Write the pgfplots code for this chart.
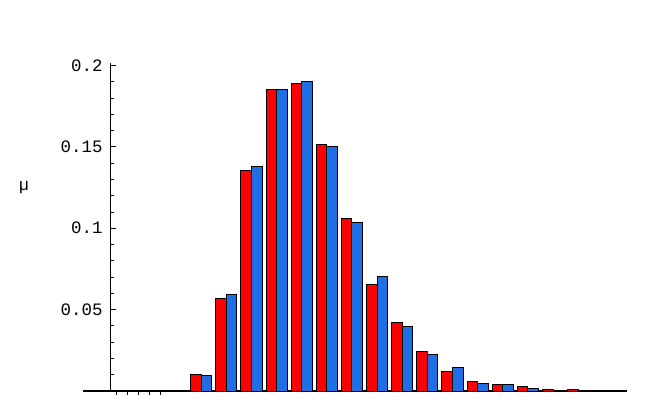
\documentclass[border=0pt]{standalone}
\usepackage{fontspec}
\setmainfont{Liberation Sans}
\newfontfamily\monofont{Liberation Mono}
\usepackage{pgfplots}
\pgfplotsset{compat=1.18}
\definecolor{barred}{RGB}{255,0,0}
\definecolor{barblue}{RGB}{30,110,230}

\begin{document}
\begin{tikzpicture}
  \useasboundingbox (0,0) rectangle (655bp,403bp);
  \begin{axis}[
      at={(82.7bp,12bp)}, anchor=south west,
      scale only axis,
      width=544bp, height=328.3bp,
      axis lines=middle,
      axis line style={-, line width=1.2bp, black},
      every inner x axis line/.append style={-},
      every inner y axis line/.append style={-},
      xmin=-1.114, xmax=20.53,
      ymin=0, ymax=0.2017,
      ybar=0pt,
      bar width=0.42,
      tick align=inside,
      major tick length=5bp,
      minor tick length=3bp,
      tick style={black, line width=0.9bp},
      xtick={0.21,0.65,1.09,1.53,1.96},
      xticklabels={},
      xtick style={yshift=-4bp},
      ytick={0.05,0.1,0.15,0.2},
      yticklabels={0.05,0.1,0.15,0.2},
      minor ytick={0.01,0.02,0.03,0.04,0.06,0.07,0.08,0.09,0.11,0.12,0.13,0.14,0.16,0.17,0.18,0.19},
      scaled y ticks=false,
      yticklabel style={font=\fontsize{17.5}{20}\monofont, anchor=east, inner sep=0pt, xshift=-8bp},
      ylabel={μ},
      every axis y label/.style={at={(axis description cs:-0.108,0.618)}, anchor=center, font=\fontsize{17}{20}\selectfont},
      clip=false,
    ]
    \addplot[fill=barred, draw=black, line width=1bp] coordinates {
      (3.6,0.0104) (4.6,0.0571) (5.6,0.1355) (6.6,0.1853) (7.6,0.1890)
      (8.6,0.1512) (9.6,0.1057) (10.6,0.0655) (11.6,0.0418) (12.6,0.0241)
      (13.6,0.0118) (14.6,0.0061) (15.6,0.0040) (16.6,0.0028) (17.6,0.0010)
      (18.6,0.0008)};
    \addplot[fill=barblue, draw=black, line width=1bp] coordinates {
      (3.6,0.0094) (4.6,0.0594) (5.6,0.1380) (6.6,0.1853) (7.6,0.1902)
      (8.6,0.1500) (9.6,0.1034) (10.6,0.0704) (11.6,0.0394) (12.6,0.0227)
      (13.6,0.0145) (14.6,0.0049) (15.6,0.0040) (16.6,0.0016) (17.6,0.0003)
      (18.6,0.0002)};
  \end{axis}
\end{tikzpicture}
\end{document}
